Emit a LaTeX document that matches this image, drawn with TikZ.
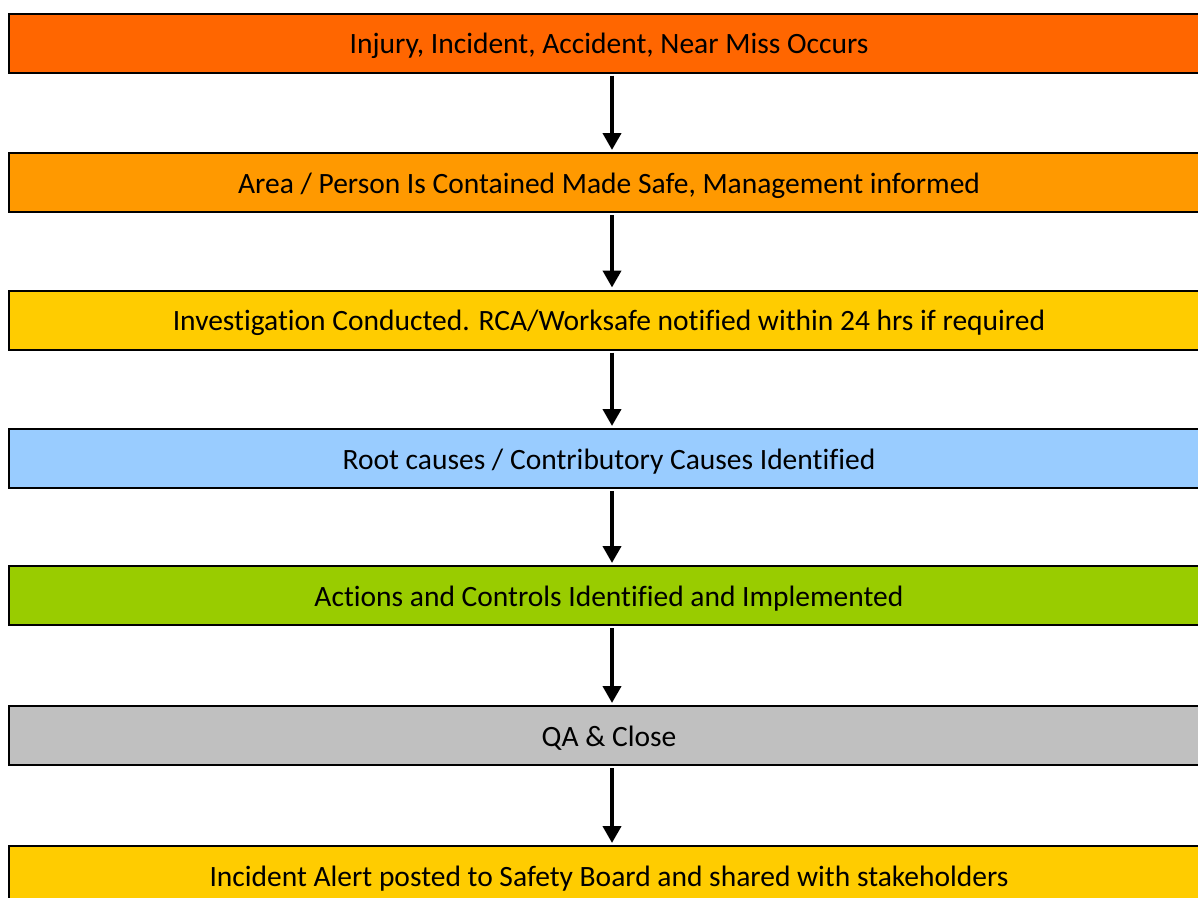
\documentclass[tikz,border=0pt]{standalone}
\usepackage{fontspec}
\setmainfont[Ligatures=NoCommon]{Carlito}
\usetikzlibrary{arrows.meta}
\definecolor{c1}{HTML}{FF6600}
\definecolor{c2}{HTML}{FF9900}
\definecolor{c3}{HTML}{FFCC00}
\definecolor{c4}{HTML}{99CCFF}
\definecolor{c5}{HTML}{99CC00}
\definecolor{c6}{HTML}{C0C0C0}
\tikzset{
  stepbox/.style={draw=black, line width=2pt, rectangle, minimum width=1200pt, minimum height=59pt, inner sep=0pt, text height=26pt, text depth=5pt, font=\fontsize{29.5}{34}\selectfont, text=black},
  arr/.style={line width=4pt, -{Triangle[width=18pt,length=17pt]}, black}
}
\begin{document}
\begin{tikzpicture}[x=1pt,y=-1pt]
\useasboundingbox (0,0) rectangle (1198,897);
\clip (0,0) rectangle (1198,897);
\fill[white] (0,0) rectangle (1198,897);
\node[stepbox, fill=c1] (b1) at (609,43) {Injury, Incident, Accident, Near Miss Occurs};
\node[stepbox, fill=c2] (b2) at (609,182.5) {Area / Person Is Contained Made Safe, Management informed};
\node[stepbox, fill=c3] (b3) at (609,320) {Investigation Conducted. RCA/Worksafe notified within 24 hrs if required};
\node[stepbox, fill=c4] (b4) at (609,458.5) {Root causes / Contributory Causes Identified};
\node[stepbox, fill=c5] (b5) at (609,595.5) {Actions and Controls Identified and Implemented};
\node[stepbox, fill=c6] (b6) at (609,735.5) {QA \& Close};
\node[stepbox, fill=c3] (b7) at (609,875.5) {Incident Alert posted to Safety Board and shared with stakeholders};
\foreach \a/\b in {b1/b2,b2/b3,b3/b4,b4/b5,b5/b6,b6/b7}{
  \draw[arr] ([xshift=3pt,yshift=-2pt]\a.south) -- ([xshift=3pt,yshift=2pt]\b.north);
}
\end{tikzpicture}
\end{document}
